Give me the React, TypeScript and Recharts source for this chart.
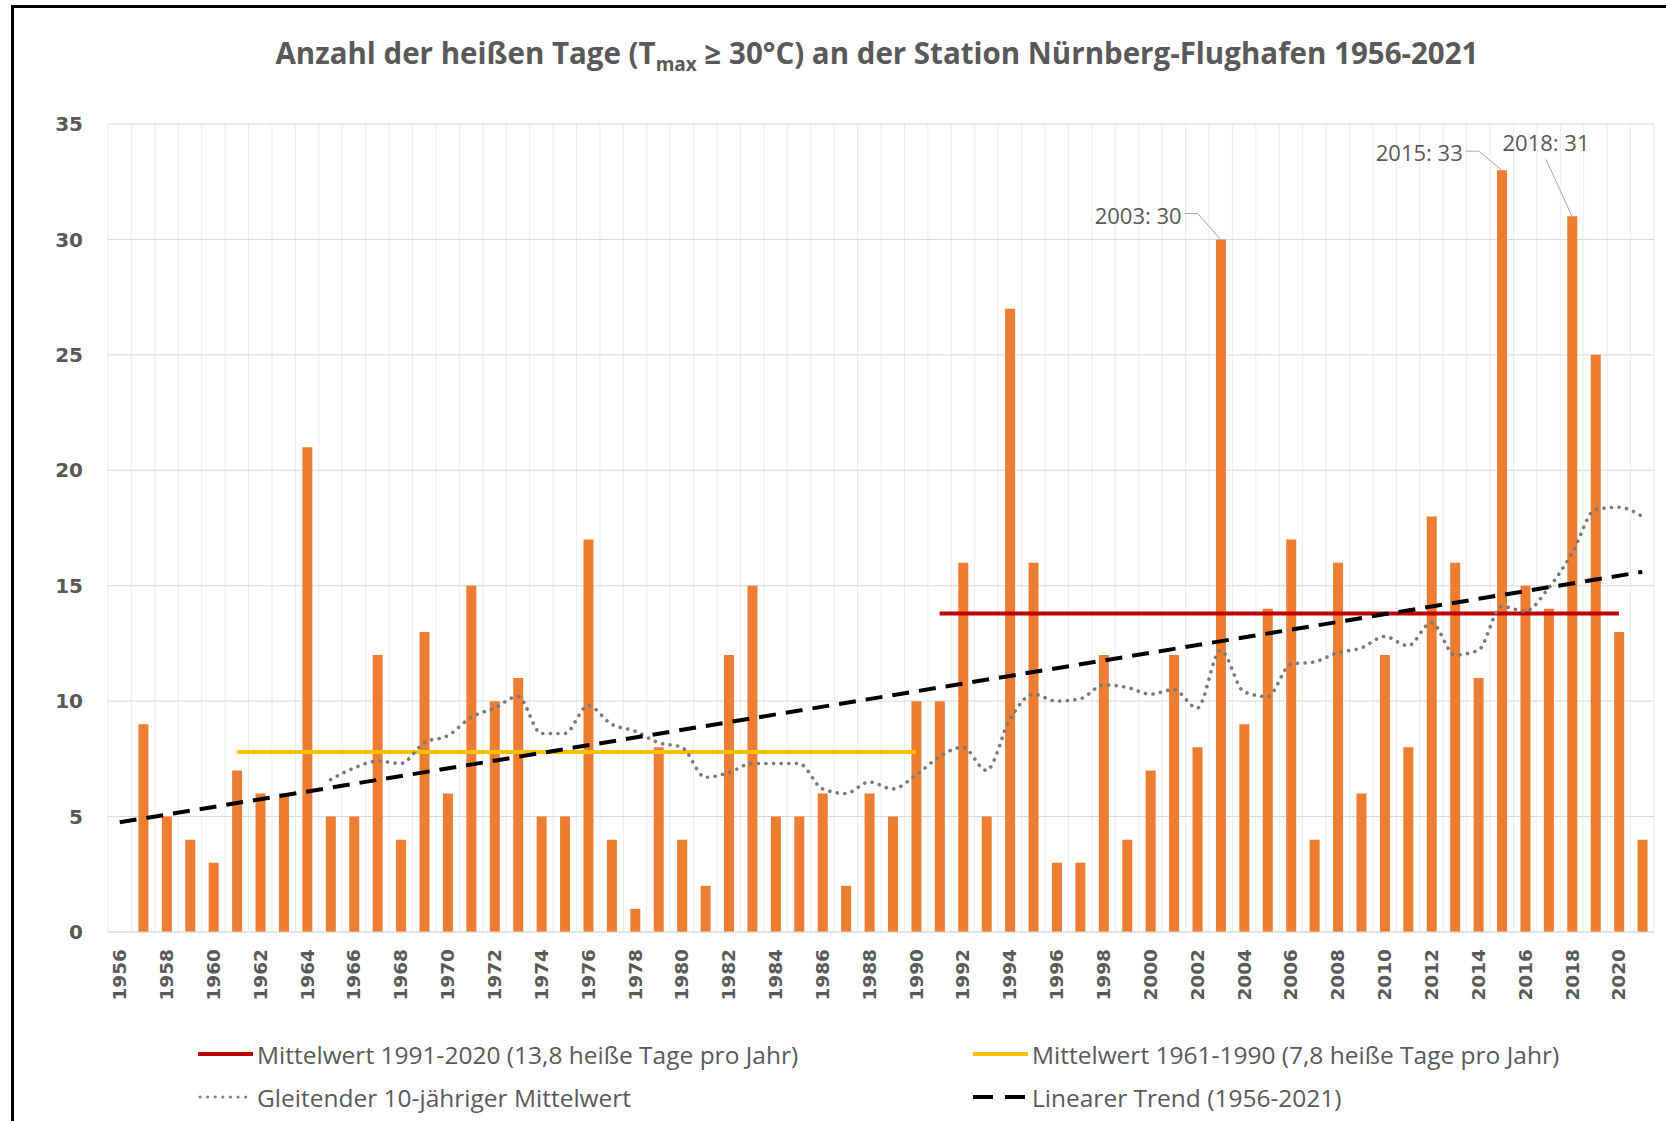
import React from 'react'
import { Bar, CartesianGrid, ComposedChart, Line, ReferenceDot, XAxis, YAxis } from 'recharts'

const years = [
  1956, 1957, 1958, 1959, 1960, 1961, 1962, 1963, 1964, 1965, 1966, 1967, 1968, 1969, 1970, 1971, 1972,
  1973, 1974, 1975, 1976, 1977, 1978, 1979, 1980, 1981, 1982, 1983, 1984, 1985, 1986, 1987, 1988, 1989,
  1990, 1991, 1992, 1993, 1994, 1995, 1996, 1997, 1998, 1999, 2000, 2001, 2002, 2003, 2004, 2005, 2006,
  2007, 2008, 2009, 2010, 2011, 2012, 2013, 2014, 2015, 2016, 2017, 2018, 2019, 2020, 2021,
]

// heiße Tage pro Jahr
const hotDays = [
  0, 9, 5, 4, 3, 7, 6, 6, 21, 5, 5, 12, 4, 13, 6, 15, 10, 11, 5, 5, 17, 4, 1, 8, 4, 2, 12, 15, 5, 5, 6, 2,
  6, 5, 10, 10, 16, 5, 27, 16, 3, 3, 12, 4, 7, 12, 8, 30, 9, 14, 17, 4, 16, 6, 12, 8, 18, 16, 11, 33, 15,
  14, 31, 25, 13, 4,
]

// gleitender 10-jähriger Mittelwert
const movingAvg = [
  null, null, null, null, null, null, null, null, null, 6.6, 7.1, 7.4, 7.3, 8.2, 8.5, 9.3, 9.7, 10.2, 8.6,
  8.6, 9.8, 9.0, 8.7, 8.2, 8.0, 6.7, 6.9, 7.3, 7.3, 7.3, 6.2, 6.0, 6.5, 6.2, 6.8, 7.6, 8.0, 7.0, 9.2,
  10.3, 10.0, 10.1, 10.7, 10.6, 10.3, 10.5, 9.7, 12.2, 10.4, 10.2, 11.6, 11.7, 12.1, 12.3, 12.8, 12.4,
  13.4, 12.0, 12.2, 14.1, 13.9, 14.9, 16.4, 18.3, 18.4, 18.0,
]

const mean6190 = { from: 1961, to: 1990, value: 7.8 }
const mean9120 = { from: 1991, to: 2020, value: 13.8 }
const trendEnds = [4.75, 15.6] // linear trend 1956 / 2021

const yTicks = [0, 5, 10, 15, 20, 25, 30, 35]
const annotated = [2003, 2015, 2018]

const data = years.map((y, i) => ({
  year: String(y),
  days: hotDays[i],
  avg: movingAvg[i],
  m1: y >= mean6190.from && y <= mean6190.to ? mean6190.value : null,
  m2: y >= mean9120.from && y <= mean9120.to ? mean9120.value : null,
  trend: i === 0 ? trendEnds[0] : i === years.length - 1 ? trendEnds[1] : null,
}))

const TXT = '#595959'

const XTick = (props: any) => {
  const { x, y, payload } = props
  return (
    <text
      x={x}
      y={y}
      transform={`rotate(-90 ${x} ${y})`}
      textAnchor="end"
      dominantBaseline="central"
      fill={TXT}
      fontSize={18.5}
      fontWeight={700}
      fontFamily="DejaVu Sans"
    >
      {payload.value}
    </text>
  )
}

// label placement offsets relative to the bar top
const leader: Record<number, { line: number; text: number }> = {
  2003: { line: -26, text: -24 },
  2015: { line: -19, text: -18 },
}

const peakShape = (yr: number, val: number) => (props: any) => {
  const { cx, cy } = props
  const top = cy
  const txt = `${yr}: ${val}`
  const common = { fill: TXT, fontSize: 22, fontFamily: 'Open Sans', dominantBaseline: 'central' as const }
  if (yr === 2018) {
    return (
      <g>
        <path d={`M${cx - 26},${top - 57} L${cx},${top}`} stroke="#a6a6a6" strokeWidth={1} fill="none" />
        <text x={cx - 26} y={top - 74} textAnchor="middle" {...common}>{txt}</text>
      </g>
    )
  }
  const o = leader[yr]
  return (
    <g>
      <path d={`M${cx - 36},${top + o.line} L${cx - 23},${top + o.line} L${cx},${top}`} stroke="#a6a6a6" strokeWidth={1} fill="none" />
      <text x={cx - 39} y={top + o.text} textAnchor="end" {...common}>{txt}</text>
    </g>
  )
}

const Swatch = ({ kind }: { kind: string }) => (
  <svg width={56} height={12} style={{ display: 'block' }}>
    {kind === 'red' && <line x1={0} y1={6} x2={55} y2={6} stroke="#c00000" strokeWidth={4} />}
    {kind === 'yellow' && <line x1={0} y1={6} x2={55} y2={6} stroke="#ffc000" strokeWidth={4} />}
    {kind === 'dot' && (
      <line x1={2} y1={6} x2={50} y2={6} stroke="#7f7f7f" strokeWidth={3} strokeDasharray="0.1 7.5" strokeLinecap="round" />
    )}
    {kind === 'dash' && <line x1={0} y1={6} x2={54} y2={6} stroke="#000" strokeWidth={4} strokeDasharray="20 12" />}
  </svg>
)

const legendItems = [
  { kind: 'red', label: 'Mittelwert 1991-2020 (13,8 heiße Tage pro Jahr)', left: 198, top: 1054 },
  { kind: 'yellow', label: 'Mittelwert 1961-1990 (7,8 heiße Tage pro Jahr)', left: 973, top: 1054 },
  { kind: 'dot', label: 'Gleitender 10-jähriger Mittelwert', left: 198, top: 1097 },
  { kind: 'dash', label: 'Linearer Trend (1956-2021)', left: 973, top: 1097 },
]

export default function App() {
  return (
    <div style={{ position: 'absolute', left: 0, top: 0, width: 1666, height: 1121, background: '#fff', overflow: 'hidden' }}>
      <div style={{ position: 'absolute', left: 11, top: 5, width: 1700, height: 1200, borderTop: '3px solid #000', borderLeft: '3px solid #000' }} />
      <div
        style={{
          position: 'absolute',
          left: 0,
          width: 1754,
          top: 33,
          textAlign: 'center',
          fontFamily: 'Open Sans',
          fontWeight: 700,
          fontSize: 29.5,
          color: TXT,
          lineHeight: '40px',
        }}
      >
        Anzahl der heißen Tage (T<sub style={{ fontSize: 19, verticalAlign: '-7px' }}>max</sub> ≥ 30°C) an der Station Nürnberg-Flughafen 1956-2021
      </div>
      <ComposedChart
        width={1666}
        height={1121}
        data={data}
        margin={{ top: 124, right: 12, left: 38, bottom: 109 }}
        style={{ position: 'absolute', left: 0, top: 0 }}
      >
        <CartesianGrid
          horizontal={false}
          stroke="#ececec"
          verticalCoordinatesGenerator={(p: any) => {
            const o = p.offset
            return years.map((_, i) => o.left + (i * o.width) / years.length).concat([o.left + o.width])
          }}
        />
        <CartesianGrid vertical={false} stroke="#d9d9d9" />
        <XAxis
          dataKey="year"
          interval={1}
          tickLine={false}
          tickSize={0}
          tickMargin={17}
          height={80}
          axisLine={{ stroke: '#d9d9d9' }}
          tick={<XTick />}
        />
        <YAxis
          domain={[0, 35]}
          ticks={yTicks}
          axisLine={false}
          tickLine={false}
          tickSize={0}
          tickMargin={25}
          width={70}
          tick={{ fill: TXT, fontSize: 20, fontWeight: 700, fontFamily: 'DejaVu Sans' }}
        />
        <Bar dataKey="days" fill="#ed7d31" barSize={10} isAnimationActive={false} />
        <Line dataKey="m1" stroke="#ffc000" strokeWidth={4} dot={false} isAnimationActive={false} />
        <Line dataKey="m2" stroke="#c00000" strokeWidth={4} dot={false} isAnimationActive={false} />
        <Line
          dataKey="avg"
          type="monotone"
          stroke="#7a7a7a"
          strokeWidth={3.6}
          strokeDasharray="0.1 7.5"
          strokeLinecap="round"
          dot={false}
          isAnimationActive={false}
        />
        <Line
          dataKey="trend"
          connectNulls
          stroke="#000"
          strokeWidth={4}
          strokeDasharray="17 10"
          dot={false}
          isAnimationActive={false}
        />
        {annotated.map((yr) => {
          const v = hotDays[years.indexOf(yr)]
          return (
            <ReferenceDot key={yr} x={String(yr)} y={v} r={1} ifOverflow="visible" shape={peakShape(yr, v)} />
          )
        })}
      </ComposedChart>
      {legendItems.map((it) => (
        <div
          key={it.label}
          style={{
            position: 'absolute',
            left: it.left,
            top: it.top - 17,
            height: 34,
            display: 'flex',
            alignItems: 'center',
            gap: 3,
            fontFamily: 'Open Sans',
            fontSize: 24.5,
            color: TXT,
            whiteSpace: 'nowrap',
          }}
        >
          <Swatch kind={it.kind} />
          <span>{it.label}</span>
        </div>
      ))}
    </div>
  )
}
